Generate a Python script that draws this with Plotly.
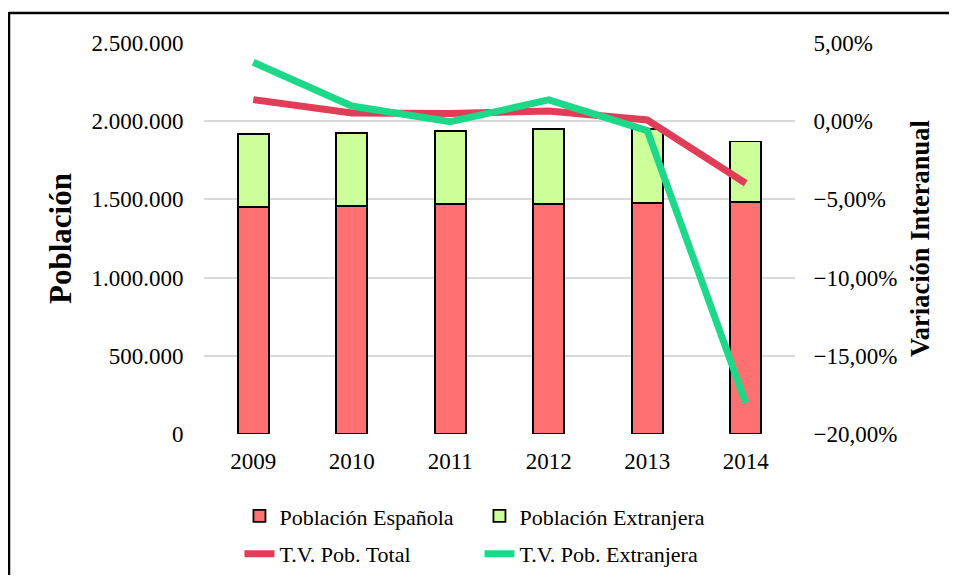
import plotly.graph_objects as go

years = ["2009", "2010", "2011", "2012", "2013", "2014"]
pob_espanola = [1453400, 1459700, 1468700, 1472500, 1475100, 1483400]
pob_extranjera = [462900, 466800, 468700, 475800, 473100, 386600]
tv_total = [1.38, 0.52, 0.50, 0.65, 0.08, -3.97]        # %
tv_extranjera = [3.77, 0.97, -0.03, 1.36, -0.60, -18.0]  # %

FONT = "Liberation Serif"

# plot area in figure px
L, R, T, B = 196, 787, 35, 426
W, H = 941, 567

fig = go.Figure()
fig.add_trace(go.Bar(
    x=years, y=pob_espanola, name="Población Española",
    marker=dict(color="#FF7070", line=dict(color="black", width=1.8)),
    width=0.315, legend="legend",
))
fig.add_trace(go.Bar(
    x=years, y=pob_extranjera, name="Población Extranjera",
    marker=dict(color="#CCFF99", line=dict(color="black", width=1.8)),
    width=0.315, legend="legend",
))
fig.add_trace(go.Scatter(
    x=years, y=[v / 100 for v in tv_total], name="T.V. Pob. Total",
    mode="lines", line=dict(color="#E03E58", width=7), yaxis="y2",
    legend="legend2",
))
fig.add_trace(go.Scatter(
    x=years, y=[v / 100 for v in tv_extranjera], name="T.V. Pob. Extranjera",
    mode="lines", line=dict(color="#1ED88A", width=7), yaxis="y2",
    legend="legend2",
))

tf = dict(family=FONT, size=23, color="black")
lf = dict(family=FONT, size=22, color="black")

px_x = lambda v: (v - L) / (R - L)
px_y = lambda v: (B - v) / (B - T)

fig.update_layout(
    width=W, height=H,
    margin=dict(l=L, r=W - R, t=T, b=H - B, autoexpand=False),
    paper_bgcolor="white", plot_bgcolor="white",
    barmode="stack",
    separators=",.",
    font=dict(family=FONT, size=23, color="black"),
    showlegend=True,
    hovermode=False,
    xaxis=dict(
        showgrid=False, showline=False, zeroline=False,
        ticks="outside", ticklen=6, tickcolor="rgba(0,0,0,0)",
        tickfont=tf,
    ),
    yaxis=dict(
        range=[0, 2500000], tickvals=[0, 500000, 1000000, 1500000, 2000000, 2500000],
        tickformat=",d", showgrid=True, gridcolor="#D9D9D9", gridwidth=1.5,
        zeroline=False, showline=False,
        ticks="outside", ticklen=15, tickcolor="rgba(0,0,0,0)",
        tickfont=tf,
        title=dict(text="<b>Población</b>", font=dict(family=FONT, size=31, color="black"), standoff=10),
    ),
    yaxis2=dict(
        overlaying="y", side="right",
        range=[-0.20, 0.05], tickvals=[-0.20, -0.15, -0.10, -0.05, 0.0, 0.05],
        tickformat=".2%", showgrid=False, zeroline=False, showline=False,
        ticks="outside", ticklen=13, tickcolor="rgba(0,0,0,0)",
        tickfont=tf,
        title=dict(text="<b>Variación Interanual</b>", font=dict(family=FONT, size=26.5, color="black"), standoff=13),
    ),
    legend=dict(
        orientation="h", x=0.06, xanchor="left", y=-0.21, yanchor="middle",
        entrywidth=195, entrywidthmode="pixels",
        font=lf, bgcolor="rgba(0,0,0,0)", traceorder="normal",
    ),
    legend2=dict(
        orientation="h", x=0.06, xanchor="left", y=-0.307, yanchor="middle",
        entrywidth=195, entrywidthmode="pixels",
        font=lf, bgcolor="rgba(0,0,0,0)", traceorder="normal",
    ),
    shapes=[
        dict(type="line", xref="paper", yref="paper",
             x0=px_x(1), x1=px_x(W), y0=px_y(5), y1=px_y(5),
             line=dict(color="black", width=2.5), layer="below"),
        dict(type="line", xref="paper", yref="paper",
             x0=px_x(1), x1=px_x(1), y0=px_y(4), y1=px_y(H),
             line=dict(color="black", width=2.5), layer="below"),
    ],
)

fig.write_html("out.html")
